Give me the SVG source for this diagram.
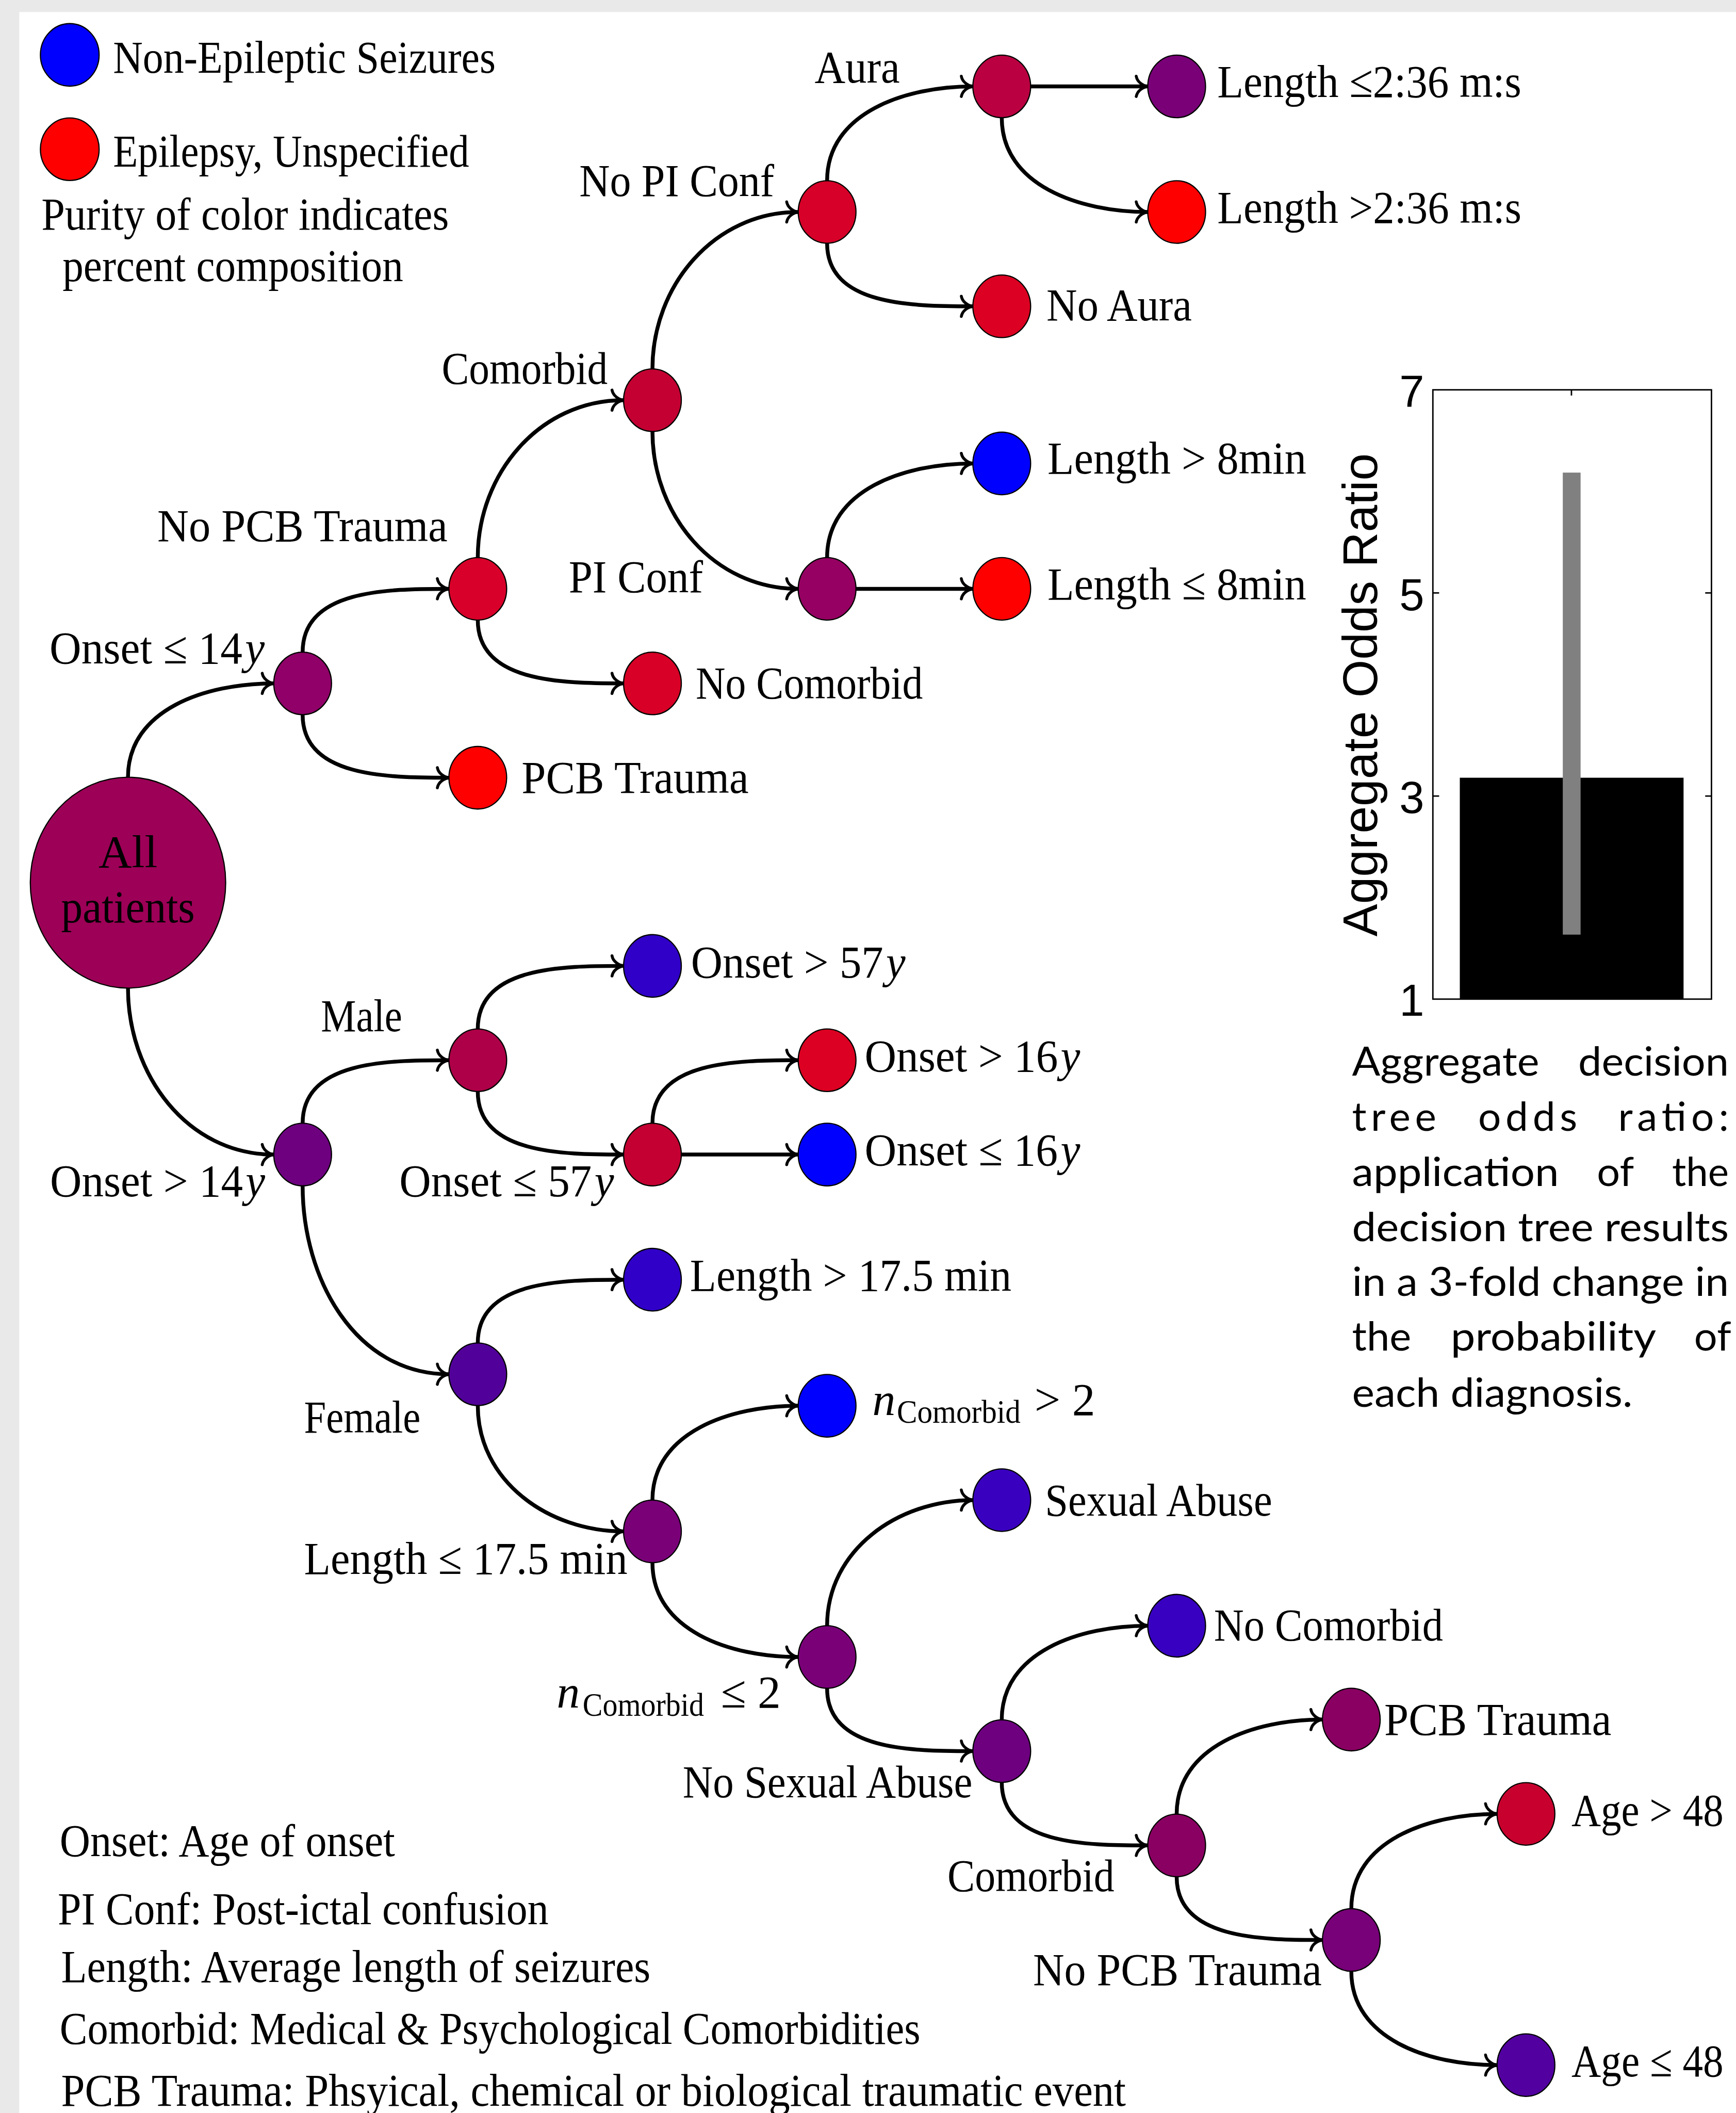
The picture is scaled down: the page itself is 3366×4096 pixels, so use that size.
<svg xmlns="http://www.w3.org/2000/svg" width="3366" height="4096" viewBox="0 0 3366 4096">
<style>
.t{font-family:"Liberation Serif","DejaVu Serif",serif;font-size:96px;fill:#000}
.i{font-style:italic}
.sub{font-size:68px}
.s{font-family:"Liberation Sans",Arial,sans-serif;fill:#000}
.c{font-family:Lato,"Liberation Sans",sans-serif;font-size:84px;fill:#000}
.n{stroke:#000;stroke-width:2.5}
.e{fill:none;stroke:#000;stroke-width:8;marker-end:url(#a)}
</style>
<defs>
<marker id="a" markerUnits="userSpaceOnUse" viewBox="-30 -25 34 50" refX="0" refY="0" markerWidth="34" markerHeight="50" orient="auto" overflow="visible">
<path d="M-24,-21 C-22,-9 -10,-1.5 0,0 C-10,1.5 -22,9 -24,21" fill="none" stroke="#000" stroke-width="6" stroke-linecap="round"/>
</marker>
</defs>
<rect width="3366" height="4096" fill="#e9e9e9"/>
<g transform="scale(0.932927)">
<rect x="40" y="25" width="3600" height="4400" fill="#fff"/>

<g id="legend-top">
<ellipse class="n" cx="145" cy="114" rx="61" ry="65" fill="#0000ff"/>
<ellipse class="n" cx="145" cy="310" rx="61" ry="65" fill="#ff0000"/>
<text class="t" x="235" y="151" textLength="795" lengthAdjust="spacingAndGlyphs">Non-Epileptic Seizures</text>
<text class="t" x="235" y="346" textLength="740" lengthAdjust="spacingAndGlyphs">Epilepsy, Unspecified</text>
<text class="t" x="86" y="477" textLength="847" lengthAdjust="spacingAndGlyphs">Purity of color indicates</text>
<text class="t" x="130" y="584" textLength="708" lengthAdjust="spacingAndGlyphs">percent composition</text>
</g>

<g id="connectors">
<path class="e" d="M266,1615 C266,1473.9 427.9,1420 569,1420"/>
<path class="e" d="M266,2053 C266,2233 389,2399 569,2399"/>
<path class="e" d="M629,1355 C629,1225.3 803.3,1223.5 933,1223.5"/>
<path class="e" d="M629,1485 C629,1614.4 803.1,1616 933,1616"/>
<path class="e" d="M993,1158.5 C993,984 1121.5,831.5 1296,831.5"/>
<path class="e" d="M993,1288.5 C993,1417.8 1166.7,1420 1296,1420"/>
<path class="e" d="M1356,766.5 C1356,592 1485.5,440.5 1659,440.5"/>
<path class="e" d="M1356,896.5 C1356,1070.8 1483.7,1223.5 1659,1223.5"/>
<path class="e" d="M1719,375.5 C1719,234.2 1881.7,179.5 2022,179.5"/>
<path class="e" d="M1719,505.5 C1719,634.7 1893.8,636.5 2022,636.5"/>
<path class="e" d="M2142,179.5 L2385.5,179.5"/>
<path class="e" d="M2082,244.5 C2082,385.4 2244.1,440.5 2385.5,440.5"/>
<path class="e" d="M1719,1158.5 C1719,1017.3 1879.8,963 2022,963"/>
<path class="e" d="M1779,1223.5 L2022,1223.5"/>
<path class="e" d="M629,2334 C629,2204.6 803.1,2203 933,2203"/>
<path class="e" d="M629,2464 C629,2658.1 738.9,2855.5 933,2855.5"/>
<path class="e" d="M993,2138 C993,2008.6 1166.6,2007 1296,2007"/>
<path class="e" d="M993,2268 C993,2397.4 1166.6,2399 1296,2399"/>
<path class="e" d="M1356,2334 C1356,2204.8 1529.8,2203 1659,2203"/>
<path class="e" d="M1416,2399 L1659,2399"/>
<path class="e" d="M993,2790.5 C993,2661.2 1166.7,2659 1296,2659"/>
<path class="e" d="M993,2920.5 C993,3077.2 1139.3,3182 1296,3182"/>
<path class="e" d="M1356,3117 C1356,2976.1 1517.1,2921 1659,2921"/>
<path class="e" d="M1356,3247 C1356,3387.9 1517.1,3443 1659,3443"/>
<path class="e" d="M1719,3378 C1719,3221.1 1865.1,3117 2022,3117"/>
<path class="e" d="M1719,3508 C1719,3637.5 1892.5,3638.5 2022,3638.5"/>
<path class="e" d="M2082,3573.5 C2082,3432.2 2244.2,3378 2385.5,3378"/>
<path class="e" d="M2082,3703.5 C2082,3832.9 2256.1,3834.5 2385.5,3834.5"/>
<path class="e" d="M2445.5,3769.5 C2445.5,3628.1 2607.1,3573 2748.5,3573"/>
<path class="e" d="M2445.5,3899.5 C2445.5,4028.8 2619.2,4031 2748.5,4031"/>
<path class="e" d="M2808.5,3966 C2808.5,3824.5 2970,3769 3111.5,3769"/>
<path class="e" d="M2808.5,4096 C2808.5,4237.1 2970.4,4291 3111.5,4291"/>
</g>

<g id="root"><ellipse class="n" cx="266" cy="1834" rx="203" ry="219" fill="#9d0057"/>
<text class="t" x="266" y="1802" text-anchor="middle">All</text>
<text class="t" x="266" y="1917" text-anchor="middle" textLength="278" lengthAdjust="spacingAndGlyphs">patients</text></g>

<g id="onset-le-14"><ellipse class="n" cx="629" cy="1420" rx="60" ry="65" fill="#900068"/>
<text class="t" x="103" y="1378" textLength="447" lengthAdjust="spacingAndGlyphs">Onset ≤ 14<tspan class="i" dx="6">y</tspan></text></g>
<g id="no-pcb-1"><ellipse class="n" cx="993" cy="1223.5" rx="60" ry="65" fill="#d8002a"/>
<text class="t" x="327" y="1124" textLength="603" lengthAdjust="spacingAndGlyphs">No PCB Trauma</text></g>
<g id="pcb-1"><ellipse class="n" cx="993" cy="1616" rx="60" ry="65" fill="#ff0000"/>
<text class="t" x="1084" y="1647" textLength="472" lengthAdjust="spacingAndGlyphs">PCB Trauma</text></g>
<g id="comorbid-1"><ellipse class="n" cx="1356" cy="831.5" rx="60" ry="65" fill="#c40032"/>
<text class="t" x="918" y="798" textLength="345" lengthAdjust="spacingAndGlyphs">Comorbid</text></g>
<g id="no-comorbid-1"><ellipse class="n" cx="1356" cy="1420" rx="60" ry="65" fill="#d80026"/>
<text class="t" x="1446" y="1451" textLength="472" lengthAdjust="spacingAndGlyphs">No Comorbid</text></g>
<g id="no-pi-conf"><ellipse class="n" cx="1719" cy="440.5" rx="60" ry="65" fill="#d60028"/>
<text class="t" x="1204" y="407" textLength="405" lengthAdjust="spacingAndGlyphs">No PI Conf</text></g>
<g id="pi-conf"><ellipse class="n" cx="1719" cy="1223.5" rx="60" ry="65" fill="#960062"/>
<text class="t" x="1182" y="1230" textLength="279" lengthAdjust="spacingAndGlyphs">PI Conf</text></g>
<g id="aura"><ellipse class="n" cx="2082" cy="179.5" rx="60" ry="65" fill="#bb0042"/>
<text class="t" x="1693" y="171" textLength="177" lengthAdjust="spacingAndGlyphs">Aura</text></g>
<g id="no-aura"><ellipse class="n" cx="2082" cy="636.5" rx="60" ry="65" fill="#dc0022"/>
<text class="t" x="2175" y="666" textLength="302" lengthAdjust="spacingAndGlyphs">No Aura</text></g>
<g id="len-le-236"><ellipse class="n" cx="2445.5" cy="179.5" rx="60" ry="65" fill="#7a0078"/>
<text class="t" x="2530" y="201" textLength="632" lengthAdjust="spacingAndGlyphs">Length ≤2:36 m:s</text></g>
<g id="len-gt-236"><ellipse class="n" cx="2445.5" cy="440.5" rx="60" ry="65" fill="#ff0000"/>
<text class="t" x="2530" y="463" textLength="632" lengthAdjust="spacingAndGlyphs">Length &gt;2:36 m:s</text></g>
<g id="len-gt-8"><ellipse class="n" cx="2082" cy="963" rx="60" ry="65" fill="#0000ff"/>
<text class="t" x="2177" y="984" textLength="538" lengthAdjust="spacingAndGlyphs">Length &gt; 8min</text></g>
<g id="len-le-8"><ellipse class="n" cx="2082" cy="1223.5" rx="60" ry="65" fill="#ff0000"/>
<text class="t" x="2177" y="1246" textLength="538" lengthAdjust="spacingAndGlyphs">Length ≤ 8min</text></g>

<g id="onset-gt-14"><ellipse class="n" cx="629" cy="2399" rx="60" ry="65" fill="#6e0080"/>
<text class="t" x="104" y="2486" textLength="447" lengthAdjust="spacingAndGlyphs">Onset &gt; 14<tspan class="i" dx="6">y</tspan></text></g>
<g id="male"><ellipse class="n" cx="993" cy="2203" rx="60" ry="65" fill="#ae0048"/>
<text class="t" x="667" y="2143" textLength="169" lengthAdjust="spacingAndGlyphs">Male</text></g>
<g id="onset-gt-57"><ellipse class="n" cx="1356" cy="2007" rx="60" ry="65" fill="#3000c8"/>
<text class="t" x="1436" y="2031" textLength="446" lengthAdjust="spacingAndGlyphs">Onset &gt; 57<tspan class="i" dx="6">y</tspan></text></g>
<g id="onset-le-57"><ellipse class="n" cx="1356" cy="2399" rx="60" ry="65" fill="#c40032"/>
<text class="t" x="830" y="2486" textLength="446" lengthAdjust="spacingAndGlyphs">Onset ≤ 57<tspan class="i" dx="6">y</tspan></text></g>
<g id="onset-gt-16"><ellipse class="n" cx="1719" cy="2203" rx="60" ry="65" fill="#dc0022"/>
<text class="t" x="1797" y="2226" textLength="448" lengthAdjust="spacingAndGlyphs">Onset &gt; 16<tspan class="i" dx="6">y</tspan></text></g>
<g id="onset-le-16"><ellipse class="n" cx="1719" cy="2399" rx="60" ry="65" fill="#0000ff"/>
<text class="t" x="1797" y="2421" textLength="448" lengthAdjust="spacingAndGlyphs">Onset ≤ 16<tspan class="i" dx="6">y</tspan></text></g>
<g id="female"><ellipse class="n" cx="993" cy="2855.5" rx="60" ry="65" fill="#52009a"/>
<text class="t" x="632" y="2977" textLength="242" lengthAdjust="spacingAndGlyphs">Female</text></g>
<g id="len-gt-175"><ellipse class="n" cx="1356" cy="2659" rx="60" ry="65" fill="#3000c8"/>
<text class="t" x="1434" y="2682" textLength="668" lengthAdjust="spacingAndGlyphs">Length &gt; 17.5 min</text></g>
<g id="len-le-175"><ellipse class="n" cx="1356" cy="3182" rx="60" ry="65" fill="#7a0078"/>
<text class="t" x="632" y="3270" textLength="672" lengthAdjust="spacingAndGlyphs">Length ≤ 17.5 min</text></g>
<g id="ncomorbid-gt-2"><ellipse class="n" cx="1719" cy="2921" rx="60" ry="65" fill="#0000ff"/>
<text class="t" x="1813" y="2940"><tspan class="i">n</tspan><tspan class="sub" x="1864" y="2956" textLength="257" lengthAdjust="spacingAndGlyphs">Comorbid</tspan><tspan x="2150" y="2940">&gt; 2</tspan></text></g>
<g id="ncomorbid-le-2"><ellipse class="n" cx="1719" cy="3443" rx="60" ry="65" fill="#7a0078"/>
<text class="t" x="1157" y="3548"><tspan class="i">n</tspan><tspan class="sub" x="1211" y="3565" textLength="252" lengthAdjust="spacingAndGlyphs">Comorbid</tspan><tspan x="1498" y="3548">≤ 2</tspan></text></g>
<g id="sexual-abuse"><ellipse class="n" cx="2082" cy="3117" rx="60" ry="65" fill="#3a00c0"/>
<text class="t" x="2172" y="3149" textLength="472" lengthAdjust="spacingAndGlyphs">Sexual Abuse</text></g>
<g id="no-sexual-abuse"><ellipse class="n" cx="2082" cy="3638.5" rx="60" ry="65" fill="#6e0080"/>
<text class="t" x="1419" y="3735" textLength="602" lengthAdjust="spacingAndGlyphs">No Sexual Abuse</text></g>
<g id="no-comorbid-2"><ellipse class="n" cx="2445.5" cy="3378" rx="60" ry="65" fill="#3800c0"/>
<text class="t" x="2523" y="3409" textLength="476" lengthAdjust="spacingAndGlyphs">No Comorbid</text></g>
<g id="comorbid-2"><ellipse class="n" cx="2445.5" cy="3834.5" rx="60" ry="65" fill="#8a0062"/>
<text class="t" x="1969" y="3930" textLength="347" lengthAdjust="spacingAndGlyphs">Comorbid</text></g>
<g id="pcb-2"><ellipse class="n" cx="2808.5" cy="3573" rx="60" ry="65" fill="#8a0062"/>
<text class="t" x="2877" y="3605" textLength="472" lengthAdjust="spacingAndGlyphs">PCB Trauma</text></g>
<g id="no-pcb-2"><ellipse class="n" cx="2808.5" cy="4031" rx="60" ry="65" fill="#780078"/>
<text class="t" x="2147" y="4125" textLength="600" lengthAdjust="spacingAndGlyphs">No PCB Trauma</text></g>
<g id="age-gt-48"><ellipse class="n" cx="3171.5" cy="3769" rx="60" ry="65" fill="#c8002e"/>
<text class="t" x="3266" y="3793" font-size="86" textLength="316" lengthAdjust="spacingAndGlyphs">Age &gt; 48</text></g>
<g id="age-le-48"><ellipse class="n" cx="3171.5" cy="4291" rx="60" ry="65" fill="#5200a0"/>
<text class="t" x="3266" y="4314" font-size="86" textLength="316" lengthAdjust="spacingAndGlyphs">Age ≤ 48</text></g>

<g id="legend-bottom">
<text class="t" x="124" y="3857" textLength="697" lengthAdjust="spacingAndGlyphs">Onset:  Age of onset</text>
<text class="t" x="120" y="3998" textLength="1020" lengthAdjust="spacingAndGlyphs">PI Conf:  Post-ictal confusion</text>
<text class="t" x="127" y="4118" textLength="1225" lengthAdjust="spacingAndGlyphs">Length:  Average length of seizures</text>
<text class="t" x="124" y="4247" textLength="1789" lengthAdjust="spacingAndGlyphs">Comorbid:  Medical &amp; Psychological Comorbidities</text>
<text class="t" x="127" y="4376" textLength="2213" lengthAdjust="spacingAndGlyphs">PCB Trauma:  Phsyical, chemical or biological traumatic event</text>
</g>

<g id="odds-chart">
<rect x="3034" y="1616" width="465" height="460" fill="#000"/>
<rect x="3248" y="982" width="37" height="960" fill="#808080"/>
<rect x="2978" y="810" width="579" height="1266" fill="none" stroke="#000" stroke-width="3"/>
<path d="M2978,1232 h13 M2978,1654 h13 M3557,1232 h-13 M3557,1654 h-13 M3266,810 v12" stroke="#000" stroke-width="3"/>
<text class="s" x="2960" y="846" font-size="93" text-anchor="end">7</text>
<text class="s" x="2960" y="1268" font-size="93" text-anchor="end">5</text>
<text class="s" x="2960" y="1689" font-size="93" text-anchor="end">3</text>
<text class="s" x="2960" y="2111" font-size="93" text-anchor="end">1</text>
<text class="s" font-size="101" text-anchor="middle" transform="translate(2862,1444) rotate(-90)" textLength="1004" lengthAdjust="spacingAndGlyphs">Aggregate Odds Ratio</text>
</g>

<g id="caption">
<text class="c" x="2810" y="2235" textLength="389" lengthAdjust="spacingAndGlyphs">Aggregate</text>
<text class="c" x="3280" y="2235" textLength="313" lengthAdjust="spacingAndGlyphs">decision</text>
<text class="c" x="2810" y="2350" textLength="175" lengthAdjust="spacing">tree</text>
<text class="c" x="3072" y="2350" textLength="206" lengthAdjust="spacing">odds</text>
<text class="c" x="3363" y="2350" textLength="230" lengthAdjust="spacing">ratio:</text>
<text class="c" x="2810" y="2464" textLength="430" lengthAdjust="spacingAndGlyphs">application</text>
<text class="c" x="3319" y="2464" textLength="77" lengthAdjust="spacingAndGlyphs">of</text>
<text class="c" x="3475" y="2464" textLength="118" lengthAdjust="spacingAndGlyphs">the</text>
<text class="c" x="2810" y="2579" textLength="783" lengthAdjust="spacingAndGlyphs">decision tree results</text>
<text class="c" x="2810" y="2693" textLength="783" lengthAdjust="spacingAndGlyphs">in a 3-fold change in</text>
<text class="c" x="2810" y="2806" textLength="123" lengthAdjust="spacingAndGlyphs">the</text>
<text class="c" x="3015" y="2806" textLength="427" lengthAdjust="spacingAndGlyphs">probability</text>
<text class="c" x="3521" y="2806" textLength="77" lengthAdjust="spacingAndGlyphs">of</text>
<text class="c" x="2810" y="2923" textLength="583" lengthAdjust="spacingAndGlyphs">each diagnosis.</text>
</g>
</g>
</svg>
